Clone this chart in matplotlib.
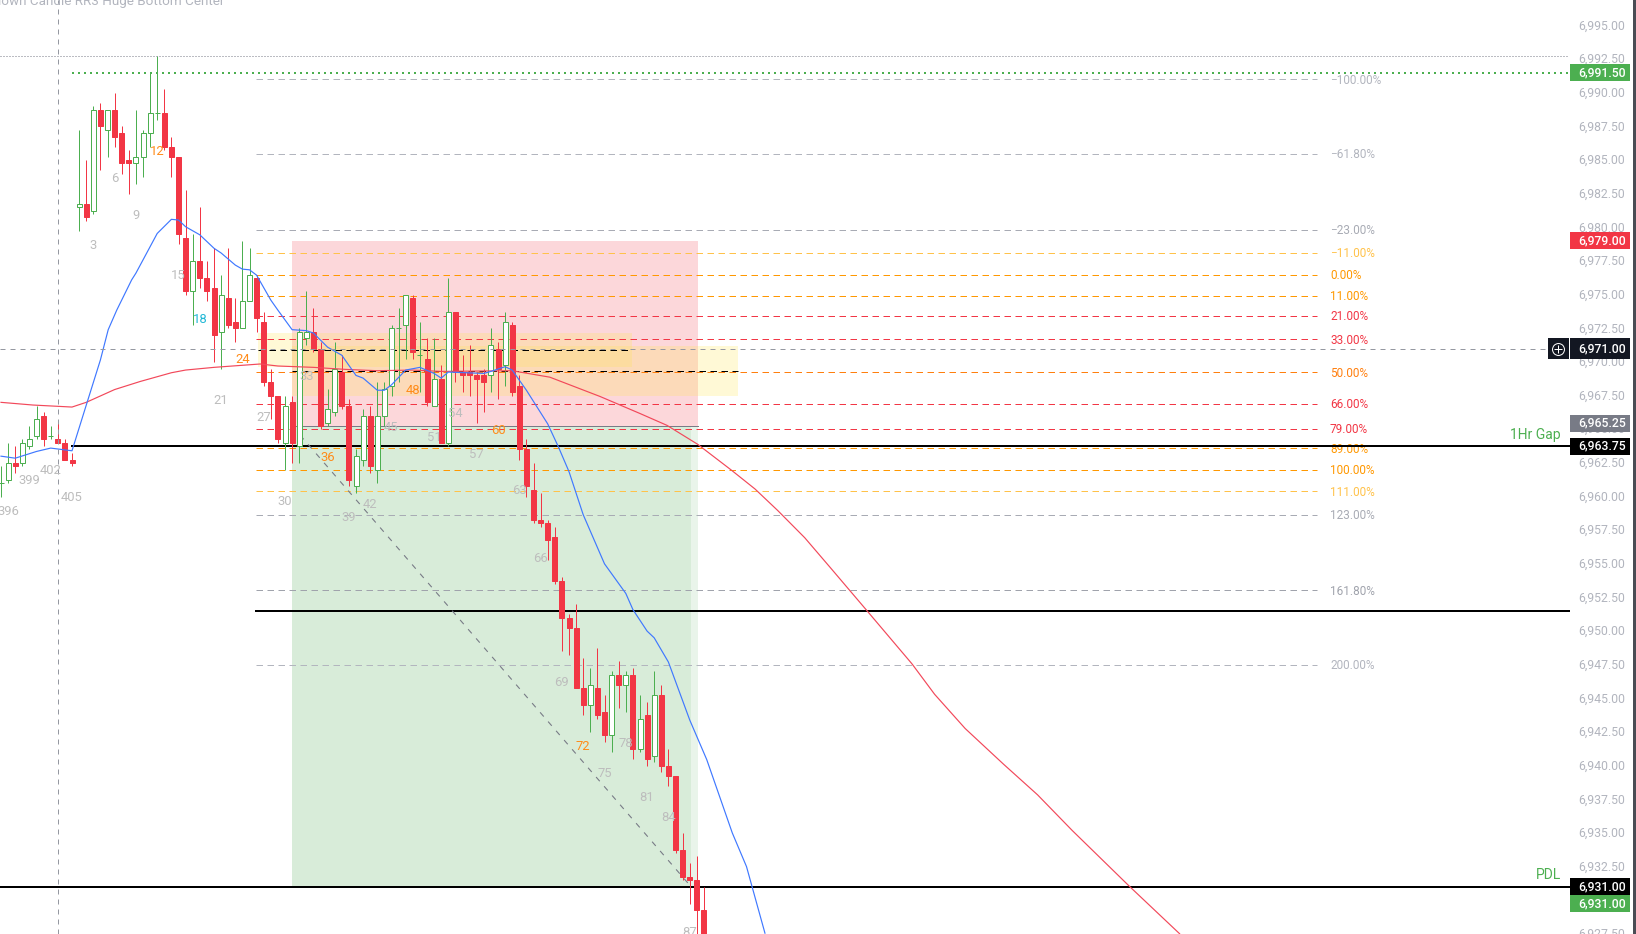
import numpy as np
import matplotlib
matplotlib.use('Agg')
import matplotlib.pyplot as plt
from matplotlib.patches import Rectangle
from matplotlib.transforms import ScaledTranslation

plt.rcParams['font.family'] = ['Roboto', 'DejaVu Sans']

# candles, bar 405 of the previous count is index 0
bars = np.arange(-10, 90)
opens = [6961, 6961.25, 6962.5, 6962.5, 6963.75, 6964.5, 6966, 6964.5, 6964.25, 6964, 6962.75,
         6981.5, 6981.75, 6981.25, 6988.75, 6987.25, 6988.75, 6987, 6985, 6984.75, 6985.25,
         6987, 6988.5, 6988.5, 6986, 6985.25, 6979.25, 6975.25, 6977.5, 6976.25, 6975.5,
         6972.25, 6974.75, 6973, 6972.5, 6974.5, 6976.25, 6973, 6968.5, 6967.5, 6964,
         6967, 6963.75, 6971.75, 6972.25, 6971, 6965.5, 6966.25, 6969.25, 6966.75, 6960.75,
         6962.75, 6966, 6962, 6966, 6968.25, 6972.5, 6972.75, 6974.75, 6970.5, 6970.25,
         6966.75, 6968.75, 6964, 6973.75, 6969.25, 6969.25, 6969, 6969, 6969, 6971,
         6969.75, 6972.75, 6968.25, 6963.5, 6960.5, 6958.25, 6958, 6957, 6953.75, 6951,
         6950.25, 6945.75, 6944.5, 6945.75, 6944, 6942.25, 6946.75, 6946, 6946.75, 6941.25,
         6943.75, 6940.75, 6945.25, 6940, 6939.25, 6933.75, 6931.75, 6931.5, 6929.25, 6929.25][:100]
highs = [6962.25, 6964, 6963.75, 6964.25, 6965.25, 6966.75, 6966.25, 6965.25, 6965.5, 6964.25, 6963.25,
         6987.25, 6985, 6989, 6989.25, 6988.75, 6990, 6987.5, 6985.75, 6988.75, 6987.25,
         6991.5, 6992.75, 6990.25, 6986.75, 6985.25, 6982.75, 6979.5, 6981.5, 6977.5, 6978.5,
         6976.5, 6978.5, 6974.75, 6979, 6978.5, 6976.5, 6973.75, 6969.5, 6967.5, 6967.5,
         6967.5, 6972.5, 6975.25, 6974, 6971.5, 6968, 6971.5, 6970.5, 6967.25, 6963.5,
         6966.5, 6966.75, 6968.5, 6968.5, 6972.75, 6974, 6975, 6975, 6973, 6971.75,
         6971.75, 6969.75, 6976.25, 6973.75, 6970.5, 6971.25, 6969.25, 6969.5, 6972.5, 6971.5,
         6973.75, 6973, 6969, 6964.25, 6962.5, 6960.25, 6958.25, 6957.75, 6954, 6951.25,
         6952, 6948, 6947.25, 6948.75, 6945.25, 6947, 6947.75, 6947, 6947.25, 6945.25,
         6944.75, 6947, 6946, 6941.25, 6939.25, 6935, 6932.75, 6933.25, 6931][:100]
lows = [6960, 6961, 6961.75, 6962.25, 6963.5, 6964.25, 6963.75, 6964.25, 6964, 6962.75, 6962.25,
        6979.75, 6980.5, 6981, 6984.25, 6985.25, 6986, 6984, 6982.5, 6983.25, 6983.75,
        6986, 6988, 6985.75, 6983.75, 6978.75, 6975, 6972.75, 6975.5, 6974.5, 6970,
        6969.5, 6972.5, 6971.5, 6972.5, 6974.5, 6972.25, 6968.25, 6965.75, 6964, 6962,
        6962.5, 6962.5, 6971.25, 6970.75, 6965, 6965.25, 6966, 6966.5, 6960.75, 6960.25,
        6962.25, 6961.75, 6961, 6965.25, 6967.5, 6968.5, 6970.25, 6970.25, 6967.75, 6966.75,
        6966.75, 6964, 6963.75, 6968.5, 6967.75, 6967.5, 6965.5, 6966.25, 6967.75, 6967.25,
        6968.25, 6967.5, 6962.75, 6960, 6958, 6957.75, 6955.25, 6953.5, 6948.5, 6948.25,
        6945.75, 6943.75, 6942.5, 6943.5, 6941.75, 6941, 6944.25, 6944, 6940.5, 6941,
        6940, 6940.25, 6939.5, 6938.5, 6933.5, 6931.5, 6929.75, 6927, 6927][:100]
closes = [6961, 6962.5, 6962.25, 6964, 6964.25, 6965.75, 6964.25, 6964.5, 6964, 6962.75, 6962.5,
          6981.75, 6980.75, 6988.75, 6987.5, 6988.75, 6986.75, 6984.75, 6984.75, 6985.25, 6987,
          6988.5, 6988.5, 6986, 6985.25, 6979.5, 6975.25, 6977.5, 6976.25, 6975.25, 6972,
          6975, 6972.75, 6972.5, 6974.5, 6976.5, 6973.25, 6968.5, 6967.5, 6964.25, 6966.75,
          6964, 6972.25, 6972.25, 6971, 6965.25, 6966.5, 6969.5, 6966.75, 6961.25, 6963,
          6966, 6962.25, 6966, 6968, 6972.5, 6972.5, 6975, 6970.75, 6970.5, 6967,
          6968.75, 6964, 6973.75, 6969.25, 6969, 6969, 6968.75, 6968.5, 6971.25, 6969.5,
          6973, 6967.75, 6963.5, 6960.75, 6958.25, 6958, 6956.75, 6953.75, 6951, 6950.25,
          6945.75, 6944.5, 6946, 6943.75, 6942.25, 6946.75, 6946, 6946.75, 6941.25, 6943.5,
          6940.5, 6945.25, 6940, 6939.25, 6933.75, 6931.75, 6931.5, 6929.25, 6927][:100]

ema_bars = [-10, -8, -5, -3, 0, 2.1, 4, 5.1, 6.3, 8.4, 9, 12, 14, 15, 16, 18, 20, 21, 23, 24, 25, 26, 28, 29, 31, 33, 34,
            36, 38, 40, 41, 43, 44, 45, 47, 49, 51, 52, 53, 58, 59, 61, 62, 64, 67, 68.5, 70, 72, 75, 78, 79,
            81, 82, 84, 87, 89.4, 93, 95, 97.6]
ema_vals = [6963, 6962.85, 6963.35, 6963.6, 6963.4, 6966.95, 6970.15, 6972.4, 6973.85, 6976.1, 6976.6, 6979.55,
            6980.6, 6980.55, 6980.05, 6979.45, 6978.45, 6978.1, 6977.2, 6976.9, 6976.85, 6976.45, 6974.6, 6973.85,
            6972.4, 6972.33, 6972.15, 6971.1, 6970.5, 6969, 6968.8, 6967.9, 6967.9, 6968.3, 6969.4, 6969.6, 6969.15,
            6968.8, 6969.25, 6969.15, 6969.3, 6969.65, 6969.4, 6967.9, 6965.4, 6963.7, 6961.85, 6958.65, 6955,
            6952.8, 6951.6, 6950, 6949.5, 6947.7, 6943.4, 6940.45, 6935, 6932.5, 6927.55]
sma_bars = [-10, -5.5, 0, 2, 6, 9.6, 14, 16, 20, 26.5, 29, 34, 38.5, 43, 48, 52, 62, 67.3, 74.4, 80, 83.8, 88.1,
            92.9, 96.2, 99.4, 103.2, 106.9, 111.8, 118.3, 121.5, 125.8, 131.2, 136, 140.9, 149, 156]
sma_vals = [6967, 6966.8, 6966.65, 6967, 6967.95, 6968.55, 6969.2, 6969.4, 6969.6, 6969.85, 6969.7, 6969.6,
            6969.45, 6969.35, 6969.4, 6969.3, 6969.35, 6968.87, 6967.43, 6966.17, 6965.29, 6963.89, 6961.95,
            6960.56, 6958.96, 6956.94, 6954.66, 6951.62, 6947.57, 6945.3, 6942.76, 6940.11, 6937.83, 6935.17,
            6931, 6927.51]

# fib levels
fib_labels = ['-100.00%', '-61.80%', '-23.00%', '-11.00%', '0.00%', '11.00%', '21.00%', '33.00%', '50.00%',
              '66.00%', '79.00%', '89.00%', '100.00%', '111.00%', '123.00%', '161.80%', '200.00%']
fib_prices = [6991, 6985.46, 6979.84, 6978.1, 6976.5, 6974.9, 6973.45, 6971.7, 6969.25,
              6966.9, 6965.05, 6963.6, 6962, 6960.4, 6958.65, 6953.04, 6947.5]
fib_colors = ['#b2b5be', '#b2b5be', '#a8abb4', '#ffc24a', '#ff9800', '#ff9800', '#f23645', '#f23645', '#ff7f0e',
              '#f23645', '#f23645', '#ff9800', '#ff9800', '#ffc24a', '#a8abb4', '#a0a3ac', '#b2b5be']

# bar count labels
count_bars = [-9, -6, -3, 0, 3, 6, 9, 12, 15, 18, 21, 24, 27, 30, 33, 36, 39, 42, 45, 48, 51, 54, 57, 60, 63, 66,
              69, 72, 75, 78, 81, 84, 87]
count_text = ['396', '399', '402', '405', '3', '6', '9', '12', '15', '18', '21', '24', '27', '30', '33', '36', '39',
              '42', '45', '48', '51', '54', '57', '60', '63', '66', '69', '72', '75', '78', '81', '84', '87']
count_prices = [6958.9, 6961.2, 6961.93, 6959.93, 6978.65, 6983.6, 6980.88, 6985.61, 6976.42, 6973.18, 6967.13,
                6970.16, 6965.87, 6959.63, 6968.91, 6962.9, 6958.44, 6959.38, 6965.13, 6967.87, 6964.38, 6966.2,
                6963.15, 6964.9, 6960.42, 6955.39, 6946.21, 6941.43, 6939.42, 6941.63, 6937.64, 6936.15, 6927.58]

# price axis
tick_prices = np.arange(6927.5, 6995.1, 2.5)
tick_labels = [f'{p:,.2f}' for p in tick_prices]
tag_prices = [6991.5, 6979, 6971, 6965.25, 6963.75, 6931, 6931]
tag_offsets = [0, 0, 0, 0.2, 0, 0, -1.26]
tag_heights = [1.26, 1.26, 1.56, 1.26, 1.26, 1.26, 1.26]
tag_text = ['6,991.50', '6,979.00', '6,971.00', '6,965.25', '6,963.75', '6,931.00', '6,931.00']
tag_colors = ['#4caf50', '#f23645', '#131722', '#787b86', '#000000', '#000000', '#4caf50']

GREEN = '#4caf50'
RED = '#f23645'
GREY = '#9598a1'


def X(px):
    return (px - 72) / 7.1


fig = plt.figure(figsize=(16.36, 9.34), dpi=100)
ax = fig.add_axes([0, 0, 1, 1])
ax.set_xlim(X(0), X(1636))
ax.set_ylim(6927.49, 6996.9)
for s in ax.spines.values():
    s.set_visible(False)
ax.xaxis.set_visible(False)
ax.yaxis.tick_right()
ax.set_yticks(tick_prices)
ax.set_yticklabels(tick_labels, fontsize=8.8, color='#b2b5be')
ax.tick_params(axis='y', length=0, pad=-41.8)
up_1px = ScaledTranslation(0, 1 / 100, fig.dpi_scale_trans)
for lab in ax.get_yticklabels():
    lab.set_transform(lab.get_transform() + up_1px)

# position zones
ax.add_patch(Rectangle((31, 6965.25), X(698) - 31, 6979 - 6965.25, fc='#fcd7da', ec='none', zorder=1))
ax.add_patch(Rectangle((31, 6931), X(698) - 31, 6965.25 - 6931, fc='#e9f4ea', ec='none', zorder=1))
ax.add_patch(Rectangle((31, 6931), X(691) - 31, 6965.25 - 6931, fc='#d8ecd9', ec='none', zorder=1.1))
ax.add_patch(Rectangle((X(257.5), 6969.65), X(632) - X(257.5), 2.5, fc='#ffe654', alpha=0.24, ec='none', zorder=1.2))
ax.add_patch(Rectangle((31, 6967.5), X(737.5) - 31, 3.7, fc='#ffe654', alpha=0.24, ec='none', zorder=1.2))

# fib levels and labels
for price, label, col in zip(fib_prices, fib_labels, fib_colors):
    ax.plot([X(256), X(1317)], [price, price], color=col, lw=0.72, ls=(0, (6.5, 4.5)), zorder=2)
    ax.text(X(1330), price - 0.07, label.replace('-', '\u2212'), color=col, fontsize=8.5, ha='left', va='center', zorder=2)

# horizontal levels
ax.plot([0, X(1569)], [6963.75, 6963.75], color='black', lw=1.44, zorder=2.5)
ax.plot([X(256), X(1569)], [6951.5, 6951.5], color='black', lw=1.44, zorder=2.5)
ax.plot([X(0), X(1569)], [6931, 6931], color='black', lw=1.44, zorder=2.5)
ax.plot([31, X(698)], [6965.25, 6965.25], color='#787b86', lw=0.72, zorder=2.5)
ax.plot([31, 87.2], [6965.25, 6931], color='#787b86', lw=0.8, ls=(0, (5, 6)), zorder=2.5)
ax.plot([X(257.5), X(632)], [6970.9, 6970.9], color='black', lw=0.72, ls=(0, (6.5, 4.5)), zorder=2.6)
ax.plot([31, X(737.5)], [6969.35, 6969.35], color='black', lw=0.72, ls=(0, (6.5, 4.5)), zorder=2.6)

# candles
for i, o, h, l, c in zip(bars, opens, highs, lows, closes):
    up = c >= o
    col = GREEN if up else RED
    ax.vlines(i, l, h, color=col, lw=0.72, zorder=3)
    ax.bar(i, max(abs(c - o), 0.001), bottom=min(o, c), width=5 / 7.1, facecolor='white' if up else RED,
           edgecolor=col, linewidth=0.72, zorder=3.1)

# moving averages
ax.plot(ema_bars, ema_vals, color='#3f78ff', lw=0.85, zorder=3.5)
ax.plot(sma_bars, sma_vals, color='#f2485a', lw=0.85, zorder=3.4)

# crosshair and dotted lines
ax.plot([X(0), X(1548)], [6971, 6971], color=GREY, lw=0.72, ls=(0, (5, 5)), zorder=3.6)
ax.plot([X(58), X(58)], [6927.49, 6996.9], color=GREY, lw=0.72, ls=(0, (5, 5)), zorder=3.6)
ax.plot([X(0), X(1568)], [6992.75, 6992.75], color='#787b86', lw=0.72, ls=(0, (1, 2)), zorder=3.6)
ax.plot([X(72), X(1569)], [6991.5, 6991.5], color=GREEN, lw=1.44, ls=(0, (1, 2)), zorder=3.6)

for i, txt, price in zip(count_bars, count_text, count_prices):
    if i in (12, 24, 36, 48, 60, 72):
        col = '#ff8c1a'
    elif i == 18:
        col = '#22b8d6'
    else:
        col = '#bdbdbd'
    ax.text(i, price, txt, color=col, fontsize=9.4, ha='center', va='center', zorder=4)

# right side text
ax.text(X(1561), 6964.25, '1Hr Gap', color=GREEN, fontsize=10, ha='right', va='baseline', zorder=4)
ax.text(X(1561), 6931.6, 'PDL', color=GREEN, fontsize=10, ha='right', va='baseline', zorder=4)
ax.text(X(224), 6996.53, 'Countdown Candle RR3 Huge Bottom Center', color='#b2b5be', fontsize=9.7,
        ha='right', va='baseline', zorder=4)

# price tags
for price, off, hgt, txt, col in zip(tag_prices, tag_offsets, tag_heights, tag_text, tag_colors):
    ax.add_patch(Rectangle((X(1570), price + off - hgt / 2), X(1630) - X(1570), hgt, fc=col, ec='none', zorder=5))
    ax.text(X(1578), price + off, txt, color='white', fontsize=8.8, fontweight='medium',
            ha='left', va='center', zorder=6)
ax.add_patch(Rectangle((X(1548), 6971 - 0.78), X(1569) - X(1548), 1.56, fc='#131722', ec='none', zorder=5))
ax.plot([X(1558.3)], [6971], marker='o', ms=8.6, mfc='none', mec='white', mew=0.72, zorder=6)
ax.plot([X(1558.3)], [6971], marker='+', ms=5.5, mec='white', mew=0.72, zorder=6)

# edge of the window
ax.add_patch(Rectangle((X(1633), 6927.49), X(1636) - X(1633), 6996.9 - 6927.49, fc='#4a4c54', ec='none', zorder=6))

fig.savefig('out.png', dpi=100)
